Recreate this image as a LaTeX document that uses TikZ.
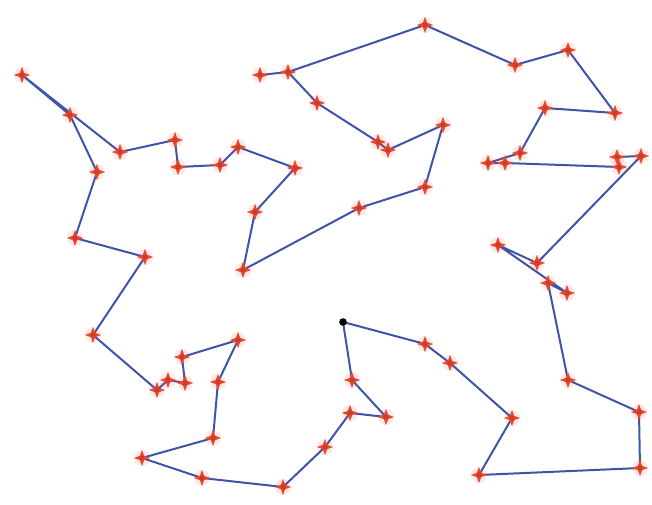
\documentclass[tikz,border=0pt]{standalone}
\usepackage{xcolor}
\usepackage{tikz}
\usetikzlibrary{calc}

\definecolor{tourblue}{RGB}{62,84,168}
\definecolor{cityred}{RGB}{236,72,48}

\begin{document}
\begin{tikzpicture}[x=1pt, y=-1pt,
    tour/.style={tourblue, line width=2pt, line join=round},
    cityglow/.style={cityred, opacity=0.12},
    city/.style={cityred}]
    \useasboundingbox (0,0) rectangle (652,505);

    % 1. Các thành phố (tọa độ theo thứ tự của hành trình)
    \foreach \n/\px/\py in {
        1/343/322, 2/425/344, 3/450/363, 4/512/418, 5/479/475,
        6/640/468, 7/639/412, 8/568/380, 9/548/283, 10/567/293,
        11/498/245, 12/537/263, 13/641/156, 14/617/157, 15/619/167,
        16/505/163, 17/488/163, 18/520/153, 19/545/108, 20/615/113,
        21/568/50, 22/515/65, 23/425/25, 24/288/72, 25/260/75,
        26/317/103, 27/378/142, 28/388/150, 29/443/125, 30/425/187,
        31/359/208, 32/243/270, 33/255/212, 34/295/168, 35/238/147,
        36/220/165, 37/178/167, 38/175/140, 39/120/152, 40/22/75,
        41/70/115, 42/97/172, 43/75/238, 44/145/257, 45/93/335,
        46/157/390, 47/168/380, 48/185/383, 49/182/357, 50/238/340,
        51/218/382, 52/213/438, 53/142/458, 54/202/478, 55/283/487,
        56/325/447, 57/350/413, 58/386/417, 59/352/380}
        \coordinate (p\n) at (\px,\py);

    % 2. Hành trình khép kín màu xanh (đi qua p24 hai lần)
    \draw[tour] (p1) \foreach \i in {2,...,25,24,26,27,...,59} { -- (p\i) } -- cycle;

    % 3. Đánh dấu các thành phố bằng ngôi sao bốn cánh màu đỏ
    \foreach \i in {2,...,59} {
        \fill[cityglow] (p\i) circle (8);
        \fill[city] (p\i) ++(0,-8) -- ++(2.2,5.8) -- ++(5.8,2.2) -- ++(-5.8,2.2)
            -- ++(-2.2,5.8) -- ++(-2.2,-5.8) -- ++(-5.8,-2.2) -- ++(5.8,-2.2) -- cycle;
        \fill[cityred!85!black] (p\i) circle (2.6);
    }

    % 4. Điểm xuất phát màu đen
    \fill[black] (p1) circle (3.8);
\end{tikzpicture}
\end{document}
